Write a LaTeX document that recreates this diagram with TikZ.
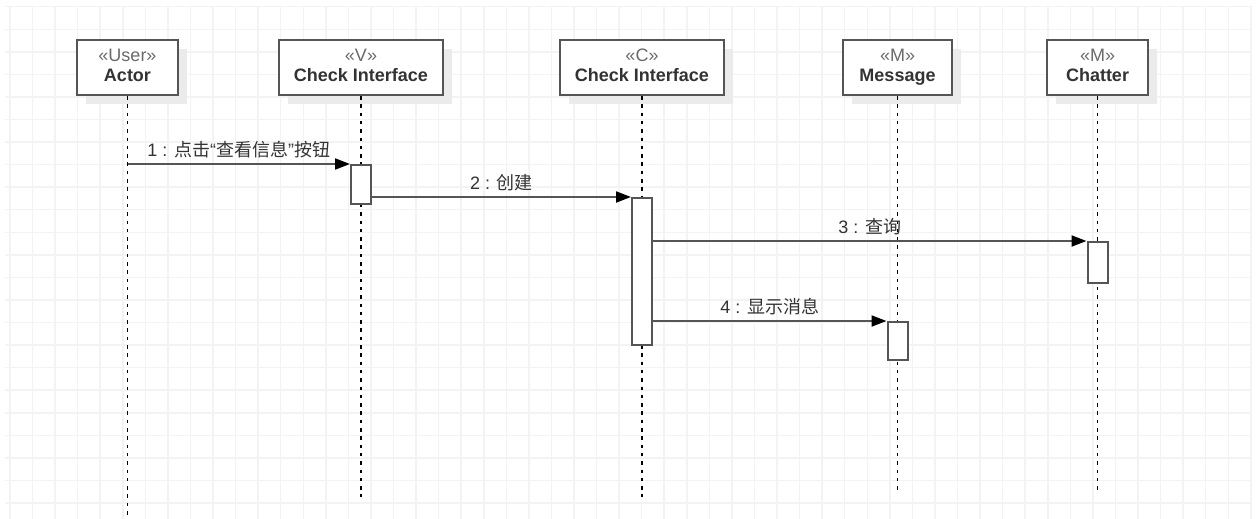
\documentclass[tikz,border=0pt]{standalone}
\usepackage{fontspec}
\setmainfont{Liberation Sans}
\newfontfamily\cjk{Noto Sans CJK SC}
\usetikzlibrary{arrows.meta, positioning, shadows}

\definecolor{linegray}{HTML}{555555}
\definecolor{textgray}{HTML}{333333}
\definecolor{stereogray}{HTML}{6A6A6A}
\definecolor{gridgray}{HTML}{F3F3F3}

\begin{document}
\begin{tikzpicture}[
    x=1pt, y=-1pt,
    >={Triangle[length=15pt, width=11pt, color=black]},
    font=\fontsize{18}{20}\selectfont,
    gridline/.style={draw=gridgray, line width=1.5pt},
    lifebox/.style={draw=linegray, line width=2pt, fill=white, minimum height=55pt,
        align=center, inner sep=0pt, text=textgray,
        drop shadow={fill=black!8, opacity=1, shadow xshift=9pt, shadow yshift=-9pt}},
    bar/.style={draw=linegray, line width=2pt, fill=white, minimum width=20pt, inner sep=0pt},
    lifeline/.style={draw=black, line width=1.5pt, dash pattern=on 3.5pt off 4.8pt},
    msg/.style={->, draw=linegray, line width=2pt},
    lbl/.style={anchor=base, yshift=8pt, inner sep=0pt, text=textgray}
]

% --- Background grid ---
\useasboundingbox (0,0) rectangle (1258,519);
\fill[white] (0,0) rectangle (1258,519);
\foreach \i in {0,...,55}
    \draw[gridline] ({10+\i*22.56}, 6.7) -- ({10+\i*22.56}, 519);
\foreach \j in {0,...,22}
    \draw[gridline] (5, {6.7+\j*22.56}) -- (1252, {6.7+\j*22.56});

% --- Lifeline heads ---
\node[lifebox, minimum width=101pt] (actor) at (127.5, 67.5)
    {{\color{stereogray}«User»}\strut\\\textbf{Actor}\strut};
\node[lifebox, minimum width=164pt] (view) at (361, 67.5)
    {{\color{stereogray}«V»}\strut\\\textbf{Check Interface}\strut};
\node[lifebox, minimum width=164pt] (ctrl) at (642, 67.5)
    {{\color{stereogray}«C»}\strut\\\textbf{Check Interface}\strut};
\node[lifebox, minimum width=109pt] (message) at (897.5, 67.5)
    {{\color{stereogray}«M»}\strut\\\textbf{Message}\strut};
\node[lifebox, minimum width=101pt] (chatter) at (1097.5, 67.5)
    {{\color{stereogray}«M»}\strut\\\textbf{Chatter}\strut};

% --- Lifelines ---
\coordinate (actorEnd) at (actor.south |- 0,515);
\coordinate (viewEnd) at (view.south |- 0,497);
\coordinate (ctrlEnd) at (ctrl.south |- 0,497);
\coordinate (messageEnd) at (message.south |- 0,490);
\coordinate (chatterEnd) at (chatter.south |- 0,490);
\draw[lifeline] (actor) -- (actorEnd);
\draw[lifeline] (view) -- (viewEnd);
\draw[lifeline] (ctrl) -- (ctrlEnd);
\draw[lifeline] (message) -- (messageEnd);
\draw[lifeline] (chatter) -- (chatterEnd);

% --- Activations ---
\node[bar, minimum height=39pt] (viewBar) at (view.south |- 0,184.5) {};
\node[bar, minimum height=147pt] (ctrlBar) at (ctrl.south |- 0,271.5) {};
\node[bar, minimum height=41pt] (chatterBar) at (chatter.south |- 0,262.5) {};
\node[bar, minimum height=38pt] (messageBar) at (message.south |- 0,341) {};

% --- Messages ---
\draw[msg] (actor.south |- viewBar.north) --
    node[lbl] {1 : {\cjk 点击}“{\cjk 查看信息}”{\cjk 按钮}} (viewBar.north west);
\draw[msg] (viewBar.east |- ctrlBar.north) --
    node[lbl] {2 : {\cjk 创建}} (ctrlBar.north west);
\draw[msg] (ctrlBar.east |- chatterBar.north) --
    node[lbl] {3 : {\cjk 查询}} (chatterBar.north west);
\draw[msg] (ctrlBar.east |- messageBar.north) --
    node[lbl] {4 : {\cjk 显示消息}} (messageBar.north west);

\end{tikzpicture}
\end{document}
